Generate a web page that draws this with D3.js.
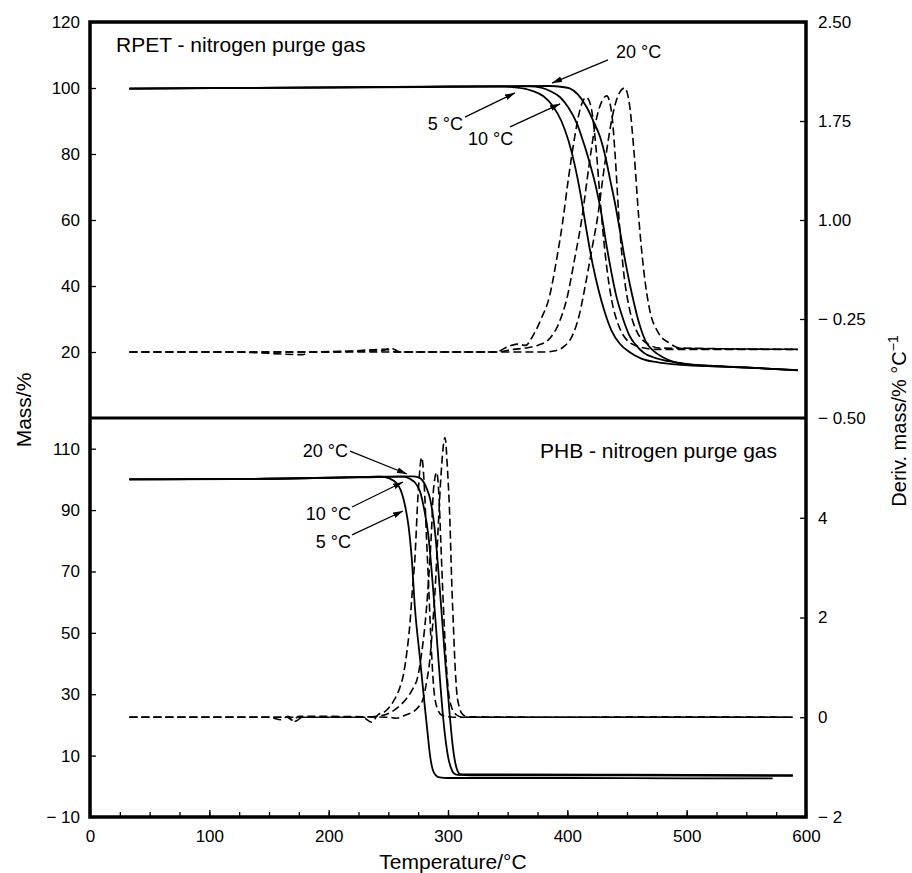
<!DOCTYPE html>
<html>
<head>
<meta charset="utf-8">
<script src="https://cdn.jsdelivr.net/npm/d3@7"></script>
<style>
  body { margin: 0; background: #fff; }
  svg { display: block; font-family: "Liberation Sans", Arial, Helvetica, sans-serif; }
  .tick text { font-size: 17px; fill: #000; }
  .tick line { stroke: #000; stroke-width: 1.3; }
  .mass { fill: none; stroke: #000; stroke-width: 1.8; }
  .deriv { fill: none; stroke: #000; stroke-width: 1.6; stroke-dasharray: 8,4; }
</style>
</head>
<body>
<div id="chart"></div>
<script>

// ---- RPET (top panel): [temperature °C, mass %]
var rpetMass5 = [[33,99.8],[120,100],[200,100.1],[280,100.3],[345,100.4],[358,100.1],[370,99.2],[380,97.5],[388,94.5],[395,90],[401,84],[406,77],[411,68],[416,57],[421,47],[426,39],[431,32.5],[437,26.5],[444,22.5],[452,20],[462,18],[475,16.9],[495,16.1],[530,15.6],[560,15.1],[593,14.4]];
var rpetMass10 = [[33,99.8],[200,100.2],[300,100.4],[368,100.5],[378,100.1],[386,99],[394,97.2],[401,94],[408,89.3],[414,83],[419,77],[424,70],[428,63],[433,52],[437,44],[441,37],[447,29.7],[452,25],[457,22.3],[464,19.8],[472,18.4],[485,17.2],[500,16.4],[540,15.5],[593,14.5]];
var rpetMass20 = [[33,99.8],[200,100.2],[300,100.5],[385,100.6],[396,100.3],[402,99.9],[409,98],[416,94.3],[422,89.8],[427.4,85.2],[432,79],[436,72],[440,65],[443,59],[448.3,48],[454,37.8],[461,27.7],[466,23],[472,20.4],[480,18.4],[489,17],[505,16.1],[550,15.3],[593,14.5]];

// ---- RPET derivative: [temperature °C, deriv. mass %/°C]
var rpetDeriv5 = [[33,0],[120,0],[178,-0.02],[185,0],[245,0.01],[252,0.03],[260,0],[340,0],[350,0.04],[358,0.06],[365,0.05],[371,0.12],[378,0.25],[385,0.42],[391,0.7],[396,0.98],[401,1.32],[406,1.62],[411,1.85],[416,1.93],[420,1.85],[424,1.55],[428,1.1],[432,0.72],[437,0.4],[443,0.2],[450,0.09],[460,0.04],[475,0.02],[593,0.02]];
var rpetDeriv10 = [[33,0],[200,0],[248,0.02],[256,0],[340,0],[355,0.02],[365,0.03],[375,0.05],[385,0.1],[393,0.22],[400,0.42],[406,0.7],[412,1.0],[418,1.4],[424,1.75],[429,1.9],[433,1.94],[437,1.82],[440,1.5],[443,1.05],[447,0.62],[452,0.33],[458,0.16],[466,0.07],[478,0.03],[593,0.02]];
var rpetDeriv20 = [[33,0],[250,0],[380,0],[390,0.01],[397,0.04],[404,0.12],[410,0.28],[416,0.55],[421,0.8],[425,1.0],[431,1.4],[437,1.75],[442,1.93],[448,2.0],[452,1.88],[456,1.5],[460,1.0],[464,0.62],[469,0.32],[476,0.15],[485,0.07],[495,0.03],[593,0.02]];

// ---- PHB (bottom panel): [temperature °C, mass %]
var phbMass5 = [[33,100],[120,100.1],[200,100.5],[243,100.9],[251,100.3],[257,98.7],[260,96.8],[262.6,93.8],[265,89.5],[266.8,85.1],[269.6,74.3],[272.3,58.1],[276.5,41.8],[280.7,25.5],[283,17],[284.9,10.2],[286.5,6.5],[288,4.6],[290,3.5],[293,2.9],[300,2.7],[400,2.7],[500,2.6],[572,2.6]];
var phbMass10 = [[33,100],[150,100.2],[230,100.7],[262,100.9],[268,100.2],[273.8,98.2],[277,95.5],[279.3,91.7],[283.5,81.9],[287.7,63.4],[291.9,41.7],[296,22.1],[298.5,13.5],[300.3,9.1],[302.5,6],[304.5,4.4],[308,3.7],[320,3.6],[450,3.6],[589,3.4]];
var phbMass20 = [[33,100],[150,100.2],[230,100.8],[270,101],[276,100.6],[279.3,99.3],[282,97.2],[284.9,93.8],[289.1,83],[293.3,63.4],[297.5,41.7],[301.7,22.1],[304,13],[305.9,8],[308,5],[310,4],[316,3.9],[450,3.8],[589,3.6]];

// ---- PHB derivative: [temperature °C, deriv. mass %/°C]
var phbDeriv5 = [[33,0],[150,0],[160,-0.05],[166,0.02],[172,-0.08],[178,0],[228,0],[236,-0.1],[241,0.04],[248,0.13],[254,0.31],[259,0.55],[262.6,0.85],[265.5,1.3],[268,1.85],[270,2.5],[272.3,3.2],[275,4.5],[278,5.21],[280,4.7],[282,3.6],[284,2.5],[286,1.4],[288,0.6],[291,0.18],[295,0.04],[305,0],[589,0]];
var phbDeriv10 = [[33,0],[230,0],[240,0.02],[248.6,0.06],[258,0.2],[265.4,0.38],[270,0.55],[275,0.85],[278,1.3],[280.7,1.85],[283,2.5],[284.9,3.19],[286.5,3.9],[287.7,4.52],[290.5,4.91],[292.5,4.4],[294,3.5],[296,2.3],[298,1.3],[300,0.6],[303,0.2],[307,0.05],[312,0],[589,0]];
var phbDeriv20 = [[33,0],[165,0],[170,-0.06],[175,0.02],[250,0],[257,-0.02],[265,0.05],[271,0.11],[275,0.2],[279.3,0.38],[282,0.7],[284.9,1.18],[287,1.8],[289.1,2.51],[291.9,3.86],[294,4.8],[297.5,5.61],[299.5,5.0],[301.7,3.86],[303,2.8],[304.5,1.85],[306,1.0],[307.3,0.51],[309.5,0.2],[311.5,0.08],[316,0.01],[400,0],[480,0.01],[589,0]];

// ---- ticks and labels
var xTicks = [0, 100, 200, 300, 400, 500, 600];
var topMassTicks = [20, 40, 60, 80, 100, 120];
var topDerivTicks = [-0.5, 0.25, 1.0, 1.75, 2.5];
var topDerivLabels = ["\u2212 0.50", "\u2212 0.25", "1.00", "1.75", "2.50"];
var botMassTicks = [-10, 10, 30, 50, 70, 90, 110];
var botDerivTicks = [-2, 0, 2, 4];

// annotation labels with their text point and arrow (from -> to) in data units
var rpetNotes = [
  { label: "20 \u00b0C", anchor: "start", at: [440.8, 109.1], from: [434.1, 108.5], to: [387.2, 101.5] },
  { label: "5 \u00b0C", anchor: "end", at: [312.6, 87.3], from: [314.2, 91.2], to: [356.1, 98.5] },
  { label: "10 \u00b0C", anchor: "start", at: [316.8, 82.7], from: [352, 88.2], to: [393.9, 95.2] }
];
var phbNotes = [
  { label: "20 \u00b0C", anchor: "end", at: [216.2, 107.3], from: [217.9, 109.2], to: [265.6, 101.75] },
  { label: "10 \u00b0C", anchor: "end", at: [218.7, 86.8], from: [219.6, 91.0], to: [262.3, 99.15] },
  { label: "5 \u00b0C", anchor: "end", at: [218.7, 77.6], from: [219.6, 81.9], to: [262.3, 89.7] }
];

var W = 912, H = 873;
var plotL = 90, plotR = 806, plotT = 22, plotMid = 418, plotB = 817;

var svg = d3.select("#chart").append("svg")
    .attr("width", W)
    .attr("height", H);

// arrow head
svg.append("defs").append("marker")
    .attr("id", "head")
    .attr("markerUnits", "userSpaceOnUse")
    .attr("viewBox", "0 0 10 6")
    .attr("refX", 10).attr("refY", 3)
    .attr("markerWidth", 10).attr("markerHeight", 6)
    .attr("orient", "auto")
  .append("path")
    .attr("d", "M0,0 L10,3 L0,6 Z")
    .attr("fill", "#000");

var x = d3.scaleLinear().domain([0, 600]).range([plotL, plotR]);

var yTopMass = d3.scaleLinear().domain([0, 120]).range([plotMid, plotT]);
var yTopDeriv = d3.scaleLinear().domain([-0.5, 2.5]).range([plotMid, plotT]);
var yBotMass = d3.scaleLinear().domain([-10, 120]).range([plotB, plotMid]);
var yBotDeriv = d3.scaleLinear().domain([-2, 6]).range([plotB, plotMid]);

function minusFmt(d) {
  return d < 0 ? "\u2212 " + Math.abs(d) : String(d);
}

// left axes (ticks point inward)
svg.append("g")
    .attr("transform", "translate(" + plotL + ",0)")
    .call(d3.axisLeft(yTopMass).tickValues(topMassTicks).tickSize(-6).tickPadding(10).tickFormat(minusFmt))
    .call(function(g) { g.select(".domain").remove(); });

svg.append("g")
    .attr("transform", "translate(" + plotL + ",0)")
    .call(d3.axisLeft(yBotMass).tickValues(botMassTicks).tickSize(-6).tickPadding(10).tickFormat(minusFmt))
    .call(function(g) { g.select(".domain").remove(); });

// right axes
svg.append("g")
    .attr("transform", "translate(" + plotR + ",0)")
    .call(d3.axisRight(yTopDeriv).tickValues(topDerivTicks).tickSize(-6).tickPadding(12)
      .tickFormat(function(d, i) { return topDerivLabels[i]; }))
    .call(function(g) { g.select(".domain").remove(); });

svg.append("g")
    .attr("transform", "translate(" + plotR + ",0)")
    .call(d3.axisRight(yBotDeriv).tickValues(botDerivTicks).tickSize(-6).tickPadding(12).tickFormat(minusFmt))
    .call(function(g) { g.select(".domain").remove(); });

// bottom axis: minor every 25, major every 100
svg.append("g")
    .attr("transform", "translate(0," + plotB + ")")
    .call(d3.axisBottom(x).tickValues(d3.range(0, 601, 25)).tickSize(-5).tickFormat(""))
    .call(function(g) { g.select(".domain").remove(); });

svg.append("g")
    .attr("transform", "translate(0," + plotB + ")")
    .call(d3.axisBottom(x).tickValues(xTicks).tickSize(-7).tickPadding(13))
    .call(function(g) { g.select(".domain").remove(); });

// curves
var lineTop = d3.line().curve(d3.curveMonotoneX)
    .x(function(d) { return x(d[0]); }).y(function(d) { return yTopMass(d[1]); });
var lineTopD = d3.line().curve(d3.curveMonotoneX)
    .x(function(d) { return x(d[0]); }).y(function(d) { return yTopDeriv(d[1]); });
var lineBot = d3.line().curve(d3.curveMonotoneX)
    .x(function(d) { return x(d[0]); }).y(function(d) { return yBotMass(d[1]); });
var lineBotD = d3.line().curve(d3.curveMonotoneX)
    .x(function(d) { return x(d[0]); }).y(function(d) { return yBotDeriv(d[1]); });

[rpetDeriv5, rpetDeriv10, rpetDeriv20].forEach(function(s) {
  svg.append("path").attr("class", "deriv").attr("d", lineTopD(s));
});
[rpetMass5, rpetMass10, rpetMass20].forEach(function(s) {
  svg.append("path").attr("class", "mass").attr("d", lineTop(s));
});
[phbDeriv5, phbDeriv10, phbDeriv20].forEach(function(s) {
  svg.append("path").attr("class", "deriv").attr("d", lineBotD(s));
});
[phbMass5, phbMass10, phbMass20].forEach(function(s) {
  svg.append("path").attr("class", "mass").attr("d", lineBot(s));
});

// frame and divider
svg.append("rect")
    .attr("x", plotL).attr("y", plotT)
    .attr("width", plotR - plotL).attr("height", plotB - plotT)
    .attr("fill", "none").attr("stroke", "#000").attr("stroke-width", 3.5);
svg.append("line")
    .attr("x1", plotL).attr("x2", plotR).attr("y1", plotMid).attr("y2", plotMid)
    .attr("stroke", "#000").attr("stroke-width", 3);

// annotations
function drawNotes(notes, yScale) {
  notes.forEach(function(n) {
    svg.append("line")
        .attr("x1", x(n.from[0])).attr("y1", yScale(n.from[1]))
        .attr("x2", x(n.to[0])).attr("y2", yScale(n.to[1]))
        .attr("stroke", "#000").attr("stroke-width", 1.3)
        .attr("marker-end", "url(#head)");
    svg.append("text")
        .attr("x", x(n.at[0])).attr("y", yScale(n.at[1]))
        .attr("text-anchor", n.anchor)
        .style("font-size", "18px")
        .text(n.label);
  });
}
drawNotes(rpetNotes, yTopMass);
drawNotes(phbNotes, yBotMass);

// panel labels
svg.append("text")
    .attr("x", plotL + 26).attr("y", plotT + 30)
    .style("font-size", "21px")
    .text("RPET - nitrogen purge gas");
svg.append("text")
    .attr("x", plotR - 29).attr("y", plotMid + 40)
    .attr("text-anchor", "end")
    .style("font-size", "21px")
    .text("PHB - nitrogen purge gas");

// axis titles
svg.append("text")
    .attr("transform", "translate(31,410) rotate(-90)")
    .attr("text-anchor", "middle")
    .style("font-size", "21px")
    .text("Mass/%");

var dt = svg.append("text")
    .attr("transform", "translate(906,421) rotate(-90)")
    .attr("text-anchor", "middle")
    .style("font-size", "20px");
dt.append("tspan").text("Deriv. mass/% \u00b0C");
dt.append("tspan").attr("dy", -8).style("font-size", "14px").text("\u22121");

svg.append("text")
    .attr("x", 453).attr("y", 869)
    .attr("text-anchor", "middle")
    .style("font-size", "21px")
    .text("Temperature/\u00b0C");

</script>
</body>
</html>
